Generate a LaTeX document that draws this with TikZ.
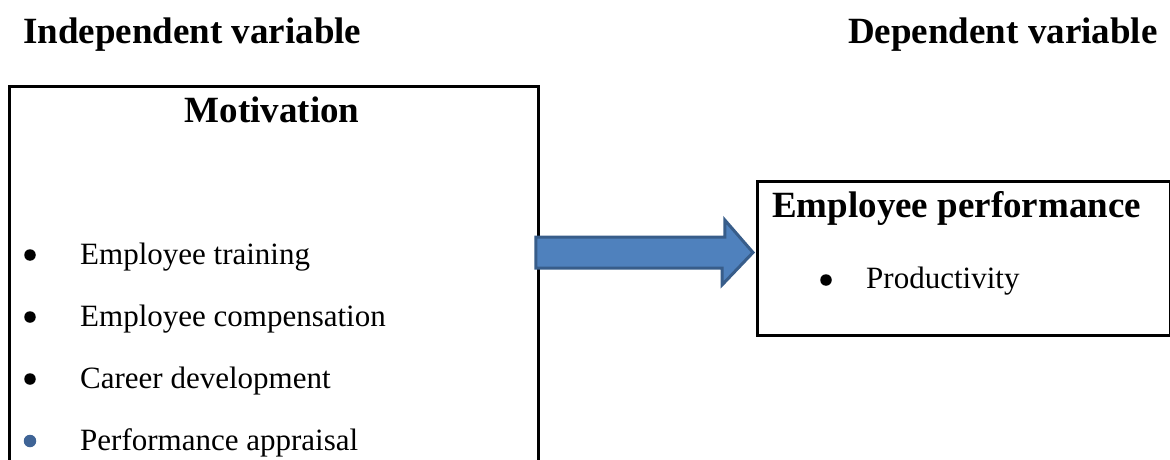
\documentclass[tikz,border=0pt]{standalone}
\usepackage{fontspec}
\setmainfont{Liberation Serif}
\definecolor{arrowfill}{HTML}{4F81BD}
\definecolor{arrowline}{HTML}{385D8A}
\definecolor{bulletblue}{HTML}{3F6496}
\begin{document}
\begin{tikzpicture}[x=1pt,y=-1pt,
  box/.style={draw=black, line width=2.8pt, inner sep=0pt, anchor=north west},
  head/.style={font=\fontsize{37}{44}\selectfont\bfseries, anchor=base west, inner sep=0pt},
  item/.style={font=\fontsize{31}{37}\selectfont, anchor=base west, inner sep=0pt},
  dot/.style={circle, fill=black, inner sep=0pt, minimum size=11.5pt},
  bigarrow/.style={fill=arrowfill, draw=arrowline, line width=3pt, line join=miter}]
\useasboundingbox (0,0) rectangle (1170,460);
\clip (0,0) rectangle (1170,460);
% headings
\node[head] (ivar) at (23,44) {Independent variable};
\node[head] (dvar) at (848,44) {Dependent variable};
% boxes
\node[box, minimum width=529pt, minimum height=430pt] (indep) at (8,85) {};
\node[box, minimum width=413pt, minimum height=154pt] (dep) at (756,180) {};
% left box content
\node[head, anchor=base] (motiv) at (272,122) {Motivation};
\node[item] (t1) at (80,264) {Employee training};
\node[item] (t2) at (80,326) {Employee compensation};
\node[item] (t3) at (80,388) {Career development};
\node[item] (t4) at (80,450) {Performance appraisal};
\node[dot] (b1) at (30,255) {};
\node[dot] (b2) at (30,317) {};
\node[dot] (b3) at (30,379) {};
\node[dot, fill=bulletblue, minimum size=12.5pt] (b4) at (30,441) {};
% right box content
\node[head] (eperf) at (772,217) {Employee performance};
\node[item] (p1) at (866,288) {Productivity};
\node[dot] (pb) at (826,280) {};
% block arrow from left box to right box
\coordinate (as) at ([xshift=-4pt]indep.east |- 0,252.5);
\coordinate (at) at ([xshift=-3pt]dep.west |- 0,252.5);
\draw[bigarrow] (as) ++(0,-15.5) -- ++(189,0) -- ++(0,-17) -- (at) -- ([xshift=-31pt,yshift=-32.5pt]at) -- ++(0,-17) -- ([yshift=-15.5pt]as) -- cycle;
\end{tikzpicture}
\end{document}
